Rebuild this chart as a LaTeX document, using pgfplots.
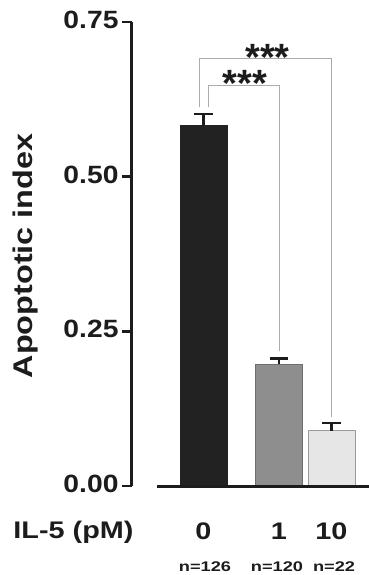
\documentclass[border=0pt]{standalone}
\usepackage{fontspec}
\setmainfont{Liberation Sans}
\newfontfamily\tickfont{Liberation Sans}[FakeStretch=1.13]
\newfontfamily\widefont{Liberation Sans}[FakeStretch=1.2]
\newfontfamily\nfont{Liberation Sans}[FakeStretch=1.3]
\usepackage{pgfplots}
\pgfplotsset{compat=1.18}
\definecolor{axcol}{HTML}{1C1C1C}
\definecolor{barA}{HTML}{222222}
\definecolor{barB}{HTML}{8E8E8E}
\definecolor{barBd}{HTML}{6E6E6E}
\definecolor{barC}{HTML}{E6E6E6}
\definecolor{barCd}{HTML}{9A9A9A}
\definecolor{brk}{HTML}{ABABAB}
\begin{document}
\begin{tikzpicture}
\useasboundingbox (-132pt,-89pt) rectangle (237pt,486pt);
\begin{axis}[
  at={(0,0)}, anchor=south west,
  scale only axis, width=237pt, height=464pt,
  xmin=-1.521, xmax=3.521, ymin=0, ymax=0.75,
  axis lines=left,
  axis line style={-, line width=3pt, color=axcol},
  x axis line style={draw=none},
  xtick={0,1.606,2.723}, xticklabels={0,1,10},
  xtick style={draw=none},
  xticklabel style={font=\widefont\bfseries\fontsize{24}{24}\selectfont, text=axcol, anchor=base, yshift=-43.5pt},
  ytick={0,0.25,0.5,0.75}, yticklabels={0.00,0.25,0.50,0.75},
  ytick style={line width=2.5pt, color=axcol},
  tick align=outside, major tick length=10pt,
  yticklabel style={font=\tickfont\bfseries\fontsize{25}{25}\selectfont, text=axcol, anchor=east, yshift=2pt},
  ylabel={Apoptotic index},
  ylabel style={font=\widefont\bfseries\fontsize{27}{27}\selectfont, text=axcol, at={(axis description cs:-0.449,0.496)}, anchor=center},
  clip=false,
  bar width=1, bar shift=0pt,
]
\addplot[ybar, fill=barA, draw=barA,
  error bars/.cd, y dir=plus, y explicit,
  error bar style={line width=2.2pt, color=axcol},
  error mark options={rotate=90, line width=2.2pt, mark size=9.3pt, color=axcol}]
  coordinates {(0,0.583) +- (0,0.018)};
\addplot[ybar, fill=barB, draw=barBd,
  error bars/.cd, y dir=plus, y explicit,
  error bar style={line width=2.2pt, color=axcol},
  error mark options={rotate=90, line width=2.2pt, mark size=9.3pt, color=axcol}]
  coordinates {(1.606,0.197) +- (0,0.009)};
\addplot[ybar, fill=barC, draw=barCd,
  error bars/.cd, y dir=plus, y explicit,
  error bar style={line width=2.2pt, color=axcol},
  error mark options={rotate=90, line width=2.2pt, mark size=9.3pt, color=axcol}]
  coordinates {(2.723,0.0896) +- (0,0.012)};
% significance brackets
\addplot[brk, line width=1.2pt, mark=none] coordinates {(-0.089,0.612) (-0.089,0.6912) (2.728,0.6912) (2.728,0.1123)};
\addplot[brk, line width=1.2pt, mark=none] coordinates {(0.102,0.612) (0.102,0.648) (1.613,0.648) (1.613,0.2176)};
\node[font=\bfseries\fontsize{38}{38}\selectfont, text=axcol, anchor=base, inner sep=0pt] at (axis cs:1.362,0.671) {***};
\node[font=\bfseries\fontsize{38}{38}\selectfont, text=axcol, anchor=base, inner sep=0pt] at (axis cs:0.883,0.629) {***};
% x axis line
\draw[line width=3pt, axcol] (axis cs:-0.989,0) -- (axis cs:3.521,0);
% labels
\node[font=\widefont\bfseries\fontsize{24}{24}\selectfont, text=axcol, anchor=base east, yshift=-52pt] at (axis cs:-1.415,0) {IL-5 (pM)};
\node[font=\nfont\bfseries\fontsize{14}{14}\selectfont, text=axcol, anchor=base, yshift=-85pt] at (axis cs:0.032,0) {n=126};
\node[font=\nfont\bfseries\fontsize{14}{14}\selectfont, text=axcol, anchor=base, yshift=-85pt] at (axis cs:1.564,0) {n=120};
\node[font=\nfont\bfseries\fontsize{14}{14}\selectfont, text=axcol, anchor=base, yshift=-85pt] at (axis cs:2.777,0) {n=22};
\end{axis}
\end{tikzpicture}
\end{document}
